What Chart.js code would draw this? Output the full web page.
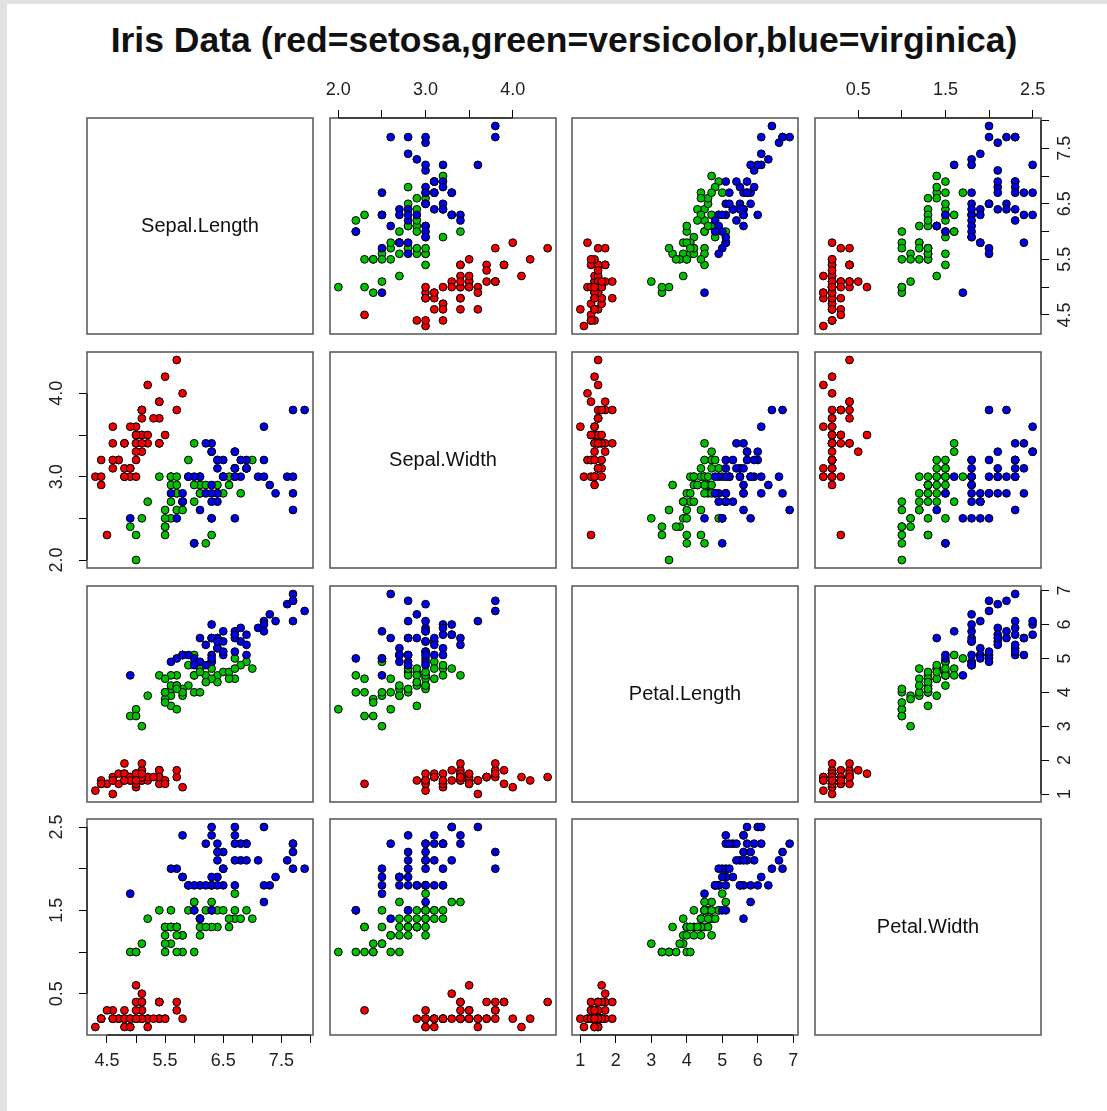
<!DOCTYPE html>
<html>
<head>
<meta charset="utf-8">
<title>Iris pairs</title>
<script src="https://cdn.jsdelivr.net/npm/chart.js@4.4.1/dist/chart.umd.min.js"></script>
<style>
  html, body { margin: 0; padding: 0; background: #fff; }
  #stripTop { position: absolute; left: 0; top: 0; width: 1107px; height: 4px; background: #e2e2e2; }
  #stripLeft { position: absolute; left: 0; top: 0; width: 7px; height: 1111px; background: #e2e2e2; }
  #title {
    position: absolute; left: 87px; top: 20px; width: 954px; line-height: 42px;
    text-align: center; font: bold 35.5px "Liberation Sans", Arial, Helvetica, sans-serif; color: #111;
  }
  canvas.panel { position: absolute; }
</style>
</head>
<body>
<div id="stripTop"></div>
<div id="stripLeft"></div>
<div id="title">Iris Data (red=setosa,green=versicolor,blue=virginica)</div>

<script>
// ---- data (Fisher's iris, as plotted) ----
const varNames = ['Sepal.Length', 'Sepal.Width', 'Petal.Length', 'Petal.Width'];
const speciesNames = ['setosa', 'versicolor', 'virginica'];
const speciesCount = [50, 50, 50];
const speciesColors = ['#f00000', '#00c000', '#0000e8'];

const sepalLength = [
  5.1,4.9,4.7,4.6,5.0,5.4,4.6,5.0,4.4,4.9,5.4,4.8,4.8,4.3,5.8,5.7,5.4,5.1,5.7,5.1,5.4,5.1,4.6,5.1,4.8,
  5.0,5.0,5.2,5.2,4.7,4.8,5.4,5.2,5.5,4.9,5.0,5.5,4.9,4.4,5.1,5.0,4.5,4.4,5.0,5.1,4.8,5.1,4.6,5.3,5.0,
  7.0,6.4,6.9,5.5,6.5,5.7,6.3,4.9,6.6,5.2,5.0,5.9,6.0,6.1,5.6,6.7,5.6,5.8,6.2,5.6,5.9,6.1,6.3,6.1,6.4,
  6.6,6.8,6.7,6.0,5.7,5.5,5.5,5.8,6.0,5.4,6.0,6.7,6.3,5.6,5.5,5.5,6.1,5.8,5.0,5.6,5.7,5.7,6.2,5.1,5.7,
  6.3,5.8,7.1,6.3,6.5,7.6,4.9,7.3,6.7,7.2,6.5,6.4,6.8,5.7,5.8,6.4,6.5,7.7,7.7,6.0,6.9,5.6,7.7,6.3,6.7,
  7.2,6.2,6.1,6.4,7.2,7.4,7.9,6.4,6.3,6.1,7.7,6.3,6.4,6.0,6.9,6.7,6.9,5.8,6.8,6.7,6.7,6.3,6.5,6.2,5.9
];
const sepalWidth = [
  3.5,3.0,3.2,3.1,3.6,3.9,3.4,3.4,2.9,3.1,3.7,3.4,3.0,3.0,4.0,4.4,3.9,3.5,3.8,3.8,3.4,3.7,3.6,3.3,3.4,
  3.0,3.4,3.5,3.4,3.2,3.1,3.4,4.1,4.2,3.1,3.2,3.5,3.6,3.0,3.4,3.5,2.3,3.2,3.5,3.8,3.0,3.8,3.2,3.7,3.3,
  3.2,3.2,3.1,2.3,2.8,2.8,3.3,2.4,2.9,2.7,2.0,3.0,2.2,2.9,2.9,3.1,3.0,2.7,2.2,2.5,3.2,2.8,2.5,2.8,2.9,
  3.0,2.8,3.0,2.9,2.6,2.4,2.4,2.7,2.7,3.0,3.4,3.1,2.3,3.0,2.5,2.6,3.0,2.6,2.3,2.7,3.0,2.9,2.9,2.5,2.8,
  3.3,2.7,3.0,2.9,3.0,3.0,2.5,2.9,2.5,3.6,3.2,2.7,3.0,2.5,2.8,3.2,3.0,3.8,2.6,2.2,3.2,2.8,2.8,2.7,3.3,
  3.2,2.8,3.0,2.8,3.0,2.8,3.8,2.8,2.8,2.6,3.0,3.4,3.1,3.0,3.1,3.1,3.1,2.7,3.2,3.3,3.0,2.5,3.0,3.4,3.0
];
const petalLength = [
  1.4,1.4,1.3,1.5,1.4,1.7,1.4,1.5,1.4,1.5,1.5,1.6,1.4,1.1,1.2,1.5,1.3,1.4,1.7,1.5,1.7,1.5,1.0,1.7,1.9,
  1.6,1.6,1.5,1.4,1.6,1.6,1.5,1.5,1.4,1.5,1.2,1.3,1.4,1.3,1.5,1.3,1.3,1.3,1.6,1.9,1.4,1.6,1.4,1.5,1.4,
  4.7,4.5,4.9,4.0,4.6,4.5,4.7,3.3,4.6,3.9,3.5,4.2,4.0,4.7,3.6,4.4,4.5,4.1,4.5,3.9,4.8,4.0,4.9,4.7,4.3,
  4.4,4.8,5.0,4.5,3.5,3.8,3.7,3.9,5.1,4.5,4.5,4.7,4.4,4.1,4.0,4.4,4.6,4.0,3.3,4.2,4.2,4.2,4.3,3.0,4.1,
  6.0,5.1,5.9,5.6,5.8,6.6,4.5,6.3,5.8,6.1,5.1,5.3,5.5,5.0,5.1,5.3,5.5,6.7,6.9,5.0,5.7,4.9,6.7,4.9,5.7,
  6.0,4.8,4.9,5.6,5.8,6.1,6.4,5.6,5.1,5.6,6.1,5.6,5.5,4.8,5.4,5.6,5.1,5.1,5.9,5.7,5.2,5.0,5.2,5.4,5.1
];
const petalWidth = [
  0.2,0.2,0.2,0.2,0.2,0.4,0.3,0.2,0.2,0.1,0.2,0.2,0.1,0.1,0.2,0.4,0.4,0.3,0.3,0.3,0.2,0.4,0.2,0.5,0.2,
  0.2,0.4,0.2,0.2,0.2,0.2,0.4,0.1,0.2,0.2,0.2,0.2,0.1,0.2,0.2,0.3,0.3,0.2,0.6,0.4,0.3,0.2,0.2,0.2,0.2,
  1.4,1.5,1.5,1.3,1.5,1.3,1.6,1.0,1.3,1.4,1.0,1.5,1.0,1.4,1.3,1.4,1.5,1.0,1.5,1.1,1.8,1.3,1.5,1.2,1.3,
  1.4,1.4,1.7,1.5,1.0,1.1,1.0,1.2,1.6,1.5,1.6,1.5,1.3,1.3,1.3,1.2,1.4,1.2,1.0,1.3,1.2,1.3,1.3,1.1,1.3,
  2.5,1.9,2.1,1.8,2.2,2.1,1.7,1.8,1.8,2.5,2.0,1.9,2.1,2.0,2.4,2.3,1.8,2.2,2.3,1.5,2.3,2.0,2.0,1.8,2.1,
  1.8,1.8,1.8,2.1,1.6,1.9,2.0,2.2,1.5,1.4,2.3,2.4,1.8,1.8,2.1,2.4,2.3,1.9,2.3,2.5,2.3,1.9,2.0,2.3,1.8
];

// tick positions and labels for each variable
const sepalLengthTicks = [4.5, 5.0, 5.5, 6.0, 6.5, 7.0, 7.5, 8.0];
const sepalLengthLabels = ['4.5', '', '5.5', '', '6.5', '', '7.5', ''];
const sepalWidthTicks = [2.0, 2.5, 3.0, 3.5, 4.0];
const sepalWidthLabels = ['2.0', '', '3.0', '', '4.0'];
const petalLengthTicks = [1, 2, 3, 4, 5, 6, 7];
const petalLengthLabels = ['1', '2', '3', '4', '5', '6', '7'];
const petalWidthTicks = [0.5, 1.0, 1.5, 2.0, 2.5];
const petalWidthLabels = ['0.5', '', '1.5', '', '2.5'];

const columns = [sepalLength, sepalWidth, petalLength, petalWidth];
const tickSets = [sepalLengthTicks, sepalWidthTicks, petalLengthTicks, petalWidthTicks];
const labelSets = [sepalLengthLabels, sepalWidthLabels, petalLengthLabels, petalWidthLabels];

// ---- layout ----
const colX = [87, 330, 572, 815];
const rowY = [118, 352, 586, 819];
const W = 226, H = 216;
const M = 50;      // canvas margin round each box
const T = 45;      // forced thickness of a visible axis
const FONT = '"Liberation Sans", Arial, Helvetica, sans-serif';

// R style range: data range widened by 4%
function axisRange(v) {
  const lo = Math.min(...v), hi = Math.max(...v);
  const pad = (hi - lo) * 0.04;
  return [lo - pad, hi + pad];
}

function makeScale(k, shown, pos, horizontal) {
  const [lo, hi] = axisRange(columns[k]);
  return {
    type: 'linear',
    position: pos,
    display: shown,
    min: lo,
    max: hi,
    afterBuildTicks: s => { s.ticks = tickSets[k].map(v => ({ value: v })); },
    afterFit: s => {
      const size = shown ? T : 0;
      if (horizontal) s.height = size; else s.width = size;
    },
    border: { display: false },
    grid: { drawOnChartArea: false, drawTicks: true, tickLength: 8, color: '#000', lineWidth: 1 },
    ticks: {
      display: horizontal,
      autoSkip: false,
      maxRotation: 0,
      minRotation: 0,
      padding: pos === 'top' ? 9 : 7,
      color: '#222',
      font: { family: FONT, size: 18 },
      callback: (v, idx) => labelSets[k][idx]
    }
  };
}

function panelPlugin(i, j, side) {
  return {
    id: 'panelDecor',
    afterDatasetsDraw(chart) {
      const { ctx, chartArea: a } = chart;
      ctx.save();
      // box
      ctx.strokeStyle = '#555';
      ctx.lineWidth = 1.5;
      ctx.strokeRect(a.left, a.top, a.right - a.left, a.bottom - a.top);

      // axis lines between first and last tick
      ctx.strokeStyle = '#000';
      ctx.lineWidth = 1;
      const xs = chart.scales.x, ys = chart.scales.y;
      if (xs.options.display) {
        const y = xs.options.position === 'top' ? a.top : a.bottom;
        const t = xs.ticks;
        ctx.beginPath();
        ctx.moveTo(xs.getPixelForValue(t[0].value), y);
        ctx.lineTo(xs.getPixelForValue(t[t.length - 1].value), y);
        ctx.stroke();
      }
      if (ys.options.display) {
        const x = side === 'right' ? a.right : a.left;
        const t = ys.ticks;
        ctx.beginPath();
        ctx.moveTo(x, ys.getPixelForValue(t[0].value));
        ctx.lineTo(x, ys.getPixelForValue(t[t.length - 1].value));
        ctx.stroke();

        // rotated tick labels, reading bottom to top
        ctx.fillStyle = '#222';
        ctx.font = '18px ' + FONT;
        ctx.textAlign = 'center';
        ctx.textBaseline = 'middle';
        const lx = side === 'right' ? a.right + 24 : a.left - 30;
        t.forEach((tk, idx) => {
          const txt = labelSets[i][idx];
          if (!txt) return;
          ctx.save();
          ctx.translate(lx, ys.getPixelForValue(tk.value));
          ctx.rotate(-Math.PI / 2);
          ctx.fillText(txt, 0, 0);
          ctx.restore();
        });
      }

      // variable name on the diagonal
      if (i === j) {
        ctx.fillStyle = '#111';
        ctx.font = '20px ' + FONT;
        ctx.textAlign = 'center';
        ctx.textBaseline = 'middle';
        ctx.fillText(varNames[i], (a.left + a.right) / 2, (a.top + a.bottom) / 2);
      }
      ctx.restore();
    }
  };
}

function makePanel(i, j) {
  const canvas = document.createElement('canvas');
  canvas.className = 'panel';
  canvas.width = W + 2 * M;
  canvas.height = H + 2 * M;
  canvas.style.left = (colX[j] - M) + 'px';
  canvas.style.top = (rowY[i] - M) + 'px';
  document.body.appendChild(canvas);

  const diag = i === j;
  const showTop = !diag && i === 0 && j % 2 === 1;
  const showBottom = !diag && i === 3 && j % 2 === 0;
  const showLeft = !diag && j === 0 && i % 2 === 1;
  const showRight = !diag && j === 3 && i % 2 === 0;

  const datasets = [];
  if (!diag) {
    let start = 0;
    speciesNames.forEach((name, s) => {
      const end = start + speciesCount[s];
      const pts = [];
      for (let r = start; r < end; r++) pts.push({ x: columns[j][r], y: columns[i][r] });
      datasets.push({
        label: name,
        data: pts,
        order: 2 - s,              // later species drawn on top, like R
        backgroundColor: speciesColors[s],
        borderColor: '#000',
        borderWidth: 1,
        pointRadius: 3.9,
        pointHoverRadius: 3.9
      });
      start = end;
    });
  }

  new Chart(canvas, {
    type: 'scatter',
    data: { datasets },
    options: {
      responsive: false,
      animation: false,
      devicePixelRatio: 1,
      layout: {
        padding: {
          left: showLeft ? M - T : M,
          right: showRight ? M - T : M,
          top: showTop ? M - T : M,
          bottom: showBottom ? M - T : M
        }
      },
      plugins: { legend: { display: false }, tooltip: { enabled: false } },
      scales: {
        x: makeScale(j, showTop || showBottom, showTop ? 'top' : 'bottom', true),
        y: makeScale(i, showLeft || showRight, showRight ? 'right' : 'left', false)
      }
    },
    plugins: [panelPlugin(i, j, showRight ? 'right' : 'left')]
  });
}

for (let i = 0; i < 4; i++) {
  for (let j = 0; j < 4; j++) makePanel(i, j);
}
</script>
</body>
</html>
